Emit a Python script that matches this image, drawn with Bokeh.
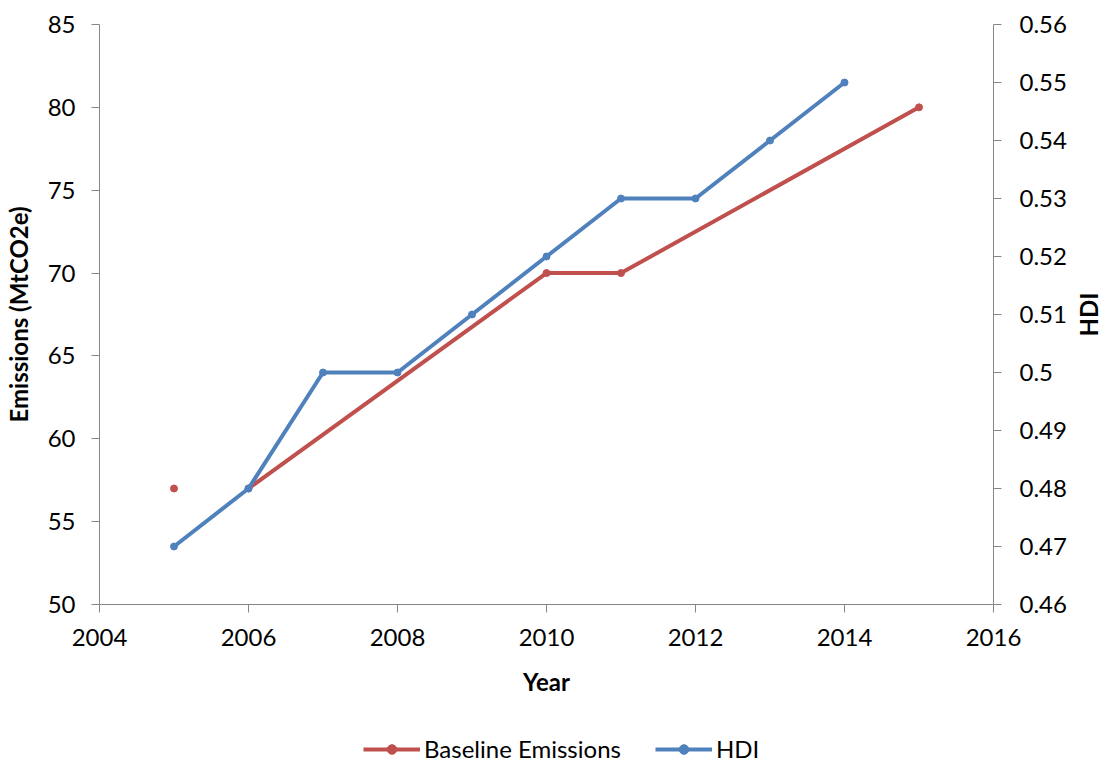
import math
from bokeh.plotting import figure
from bokeh.layouts import column, row
from bokeh.models import Range1d, LinearAxis, FixedTicker, CustomJSTickFormatter, Legend, LegendItem, ColumnDataSource
from bokeh.core.properties import value
from bokeh.embed import file_html
from bokeh.resources import INLINE

# Data
emission_years = [2005, 2006, 2010, 2011, 2015]
emissions = [57, 57, 70, 70, 80]
hdi_years = [2005, 2006, 2007, 2008, 2009, 2010, 2011, 2012, 2013, 2014]
hdi = [0.47, 0.48, 0.50, 0.50, 0.51, 0.52, 0.53, 0.53, 0.54, 0.55]
x_ticks = [2004, 2006, 2008, 2010, 2012, 2014, 2016]
left_ticks = [50, 55, 60, 65, 70, 75, 80, 85]
right_ticks = [0.46, 0.47, 0.48, 0.49, 0.50, 0.51, 0.52, 0.53, 0.54, 0.55, 0.56]
series_names = ["Baseline Emissions", "HDI"]

RED = "#C0504D"
BLUE = "#4F81BD"
AXIS = "#868686"
FONT = "Lato"
FS = "24px"

# ---------------- main chart ----------------
p = figure(width=1074, height=724, output_backend="svg", toolbar_location=None,
           x_range=Range1d(x_ticks[0], x_ticks[-1]), y_range=Range1d(left_ticks[0], left_ticks[-1]),
           min_border_left=97, min_border_right=81, min_border_top=24, min_border_bottom=120)
p.outline_line_color = None
p.grid.visible = False
p.extra_y_ranges = {"hdi": Range1d(right_ticks[0], right_ticks[-1])}

ax_right = LinearAxis(y_range_name="hdi")
p.add_layout(ax_right, "right")

p.xaxis.axis_label = "Year"
p.yaxis[0].axis_label = "Emissions (MtCO2e)"
p.xaxis.ticker = FixedTicker(ticks=x_ticks)
p.yaxis[0].ticker = FixedTicker(ticks=left_ticks)
ax_right.ticker = FixedTicker(ticks=right_ticks)
ax_right.formatter = CustomJSTickFormatter(code="return String(Number(tick.toFixed(2)));")

for ax in [p.xaxis[0], p.yaxis[0], ax_right]:
    ax.axis_line_color = AXIS
    ax.major_tick_line_color = AXIS
    ax.minor_tick_line_color = None
    ax.major_tick_in = 0
    ax.major_tick_out = 8
    ax.major_label_text_font = FONT
    ax.major_label_text_font_size = FS
    ax.major_label_text_color = "black"
    ax.axis_label_text_font = FONT
    ax.axis_label_text_font_size = "24px"
    ax.axis_label_text_font_style = "bold"
    ax.axis_label_text_color = "black"

p.xaxis.major_label_standoff = 16
p.xaxis.axis_label_standoff = 18
p.yaxis[0].major_label_standoff = 16
p.yaxis[0].axis_label_standoff = 12
ax_right.major_label_standoff = 18

em_line_src = ColumnDataSource(dict(x=emission_years[1:], y=emissions[1:]))
em_pts_src = ColumnDataSource(dict(x=emission_years, y=emissions))
hdi_src = ColumnDataSource(dict(x=hdi_years, y=hdi))

p.line("x", "y", source=em_line_src, line_color=RED, line_width=4)
p.scatter("x", "y", source=em_pts_src, size=7, color=RED)
p.line("x", "y", source=hdi_src, line_color=BLUE, line_width=4, y_range_name="hdi")
p.scatter("x", "y", source=hdi_src, size=7, color=BLUE, y_range_name="hdi")

# ---------------- right axis title ----------------
t = figure(width=28, height=724, output_backend="svg", toolbar_location=None,
           x_axis_type=None, y_axis_type=None,
           x_range=Range1d(0, 1), y_range=Range1d(right_ticks[0], right_ticks[-1]),
           min_border_left=0, min_border_right=0, min_border_top=24, min_border_bottom=120)
t.outline_line_color = None
t.text(x=[0.5], y=[(right_ticks[0] + right_ticks[-1]) / 2], text=["HDI"], angle=math.pi / 2,
       text_align="center", text_baseline="middle", text_font=value(FONT),
       text_font_style="bold", text_font_size="24px", text_color="black")

# ---------------- legend strip (series drawn out of view; only the legend shows) ----------------
lg = figure(width=1102, height=40, output_backend="svg", toolbar_location=None,
            x_axis_type=None, y_axis_type=None, x_range=Range1d(0, 1), y_range=Range1d(0, 1),
            min_border_left=0, min_border_right=0, min_border_top=0, min_border_bottom=0)
lg.outline_line_color = None
l1 = lg.line("x", "y", source=em_line_src, line_color=RED, line_width=4)
s1 = lg.scatter("x", "y", source=em_pts_src, size=7, color=RED)
l2 = lg.line("x", "y", source=hdi_src, line_color=BLUE, line_width=4)
s2 = lg.scatter("x", "y", source=hdi_src, size=7, color=BLUE)
legend = Legend(items=[LegendItem(label=series_names[0], renderers=[l1, s1]),
                       LegendItem(label=series_names[1], renderers=[l2, s2])],
                orientation="horizontal", location=(363, 1),
                label_text_font=FONT, label_text_font_size=FS, label_text_color="black",
                label_standoff=4, glyph_width=57, glyph_height=24, spacing=34, padding=0,
                margin=0, border_line_color=None, background_fill_alpha=0)
lg.add_layout(legend, "center")

layout = column(row(p, t), lg)
open("out.html", "w").write(file_html(layout, INLINE))
